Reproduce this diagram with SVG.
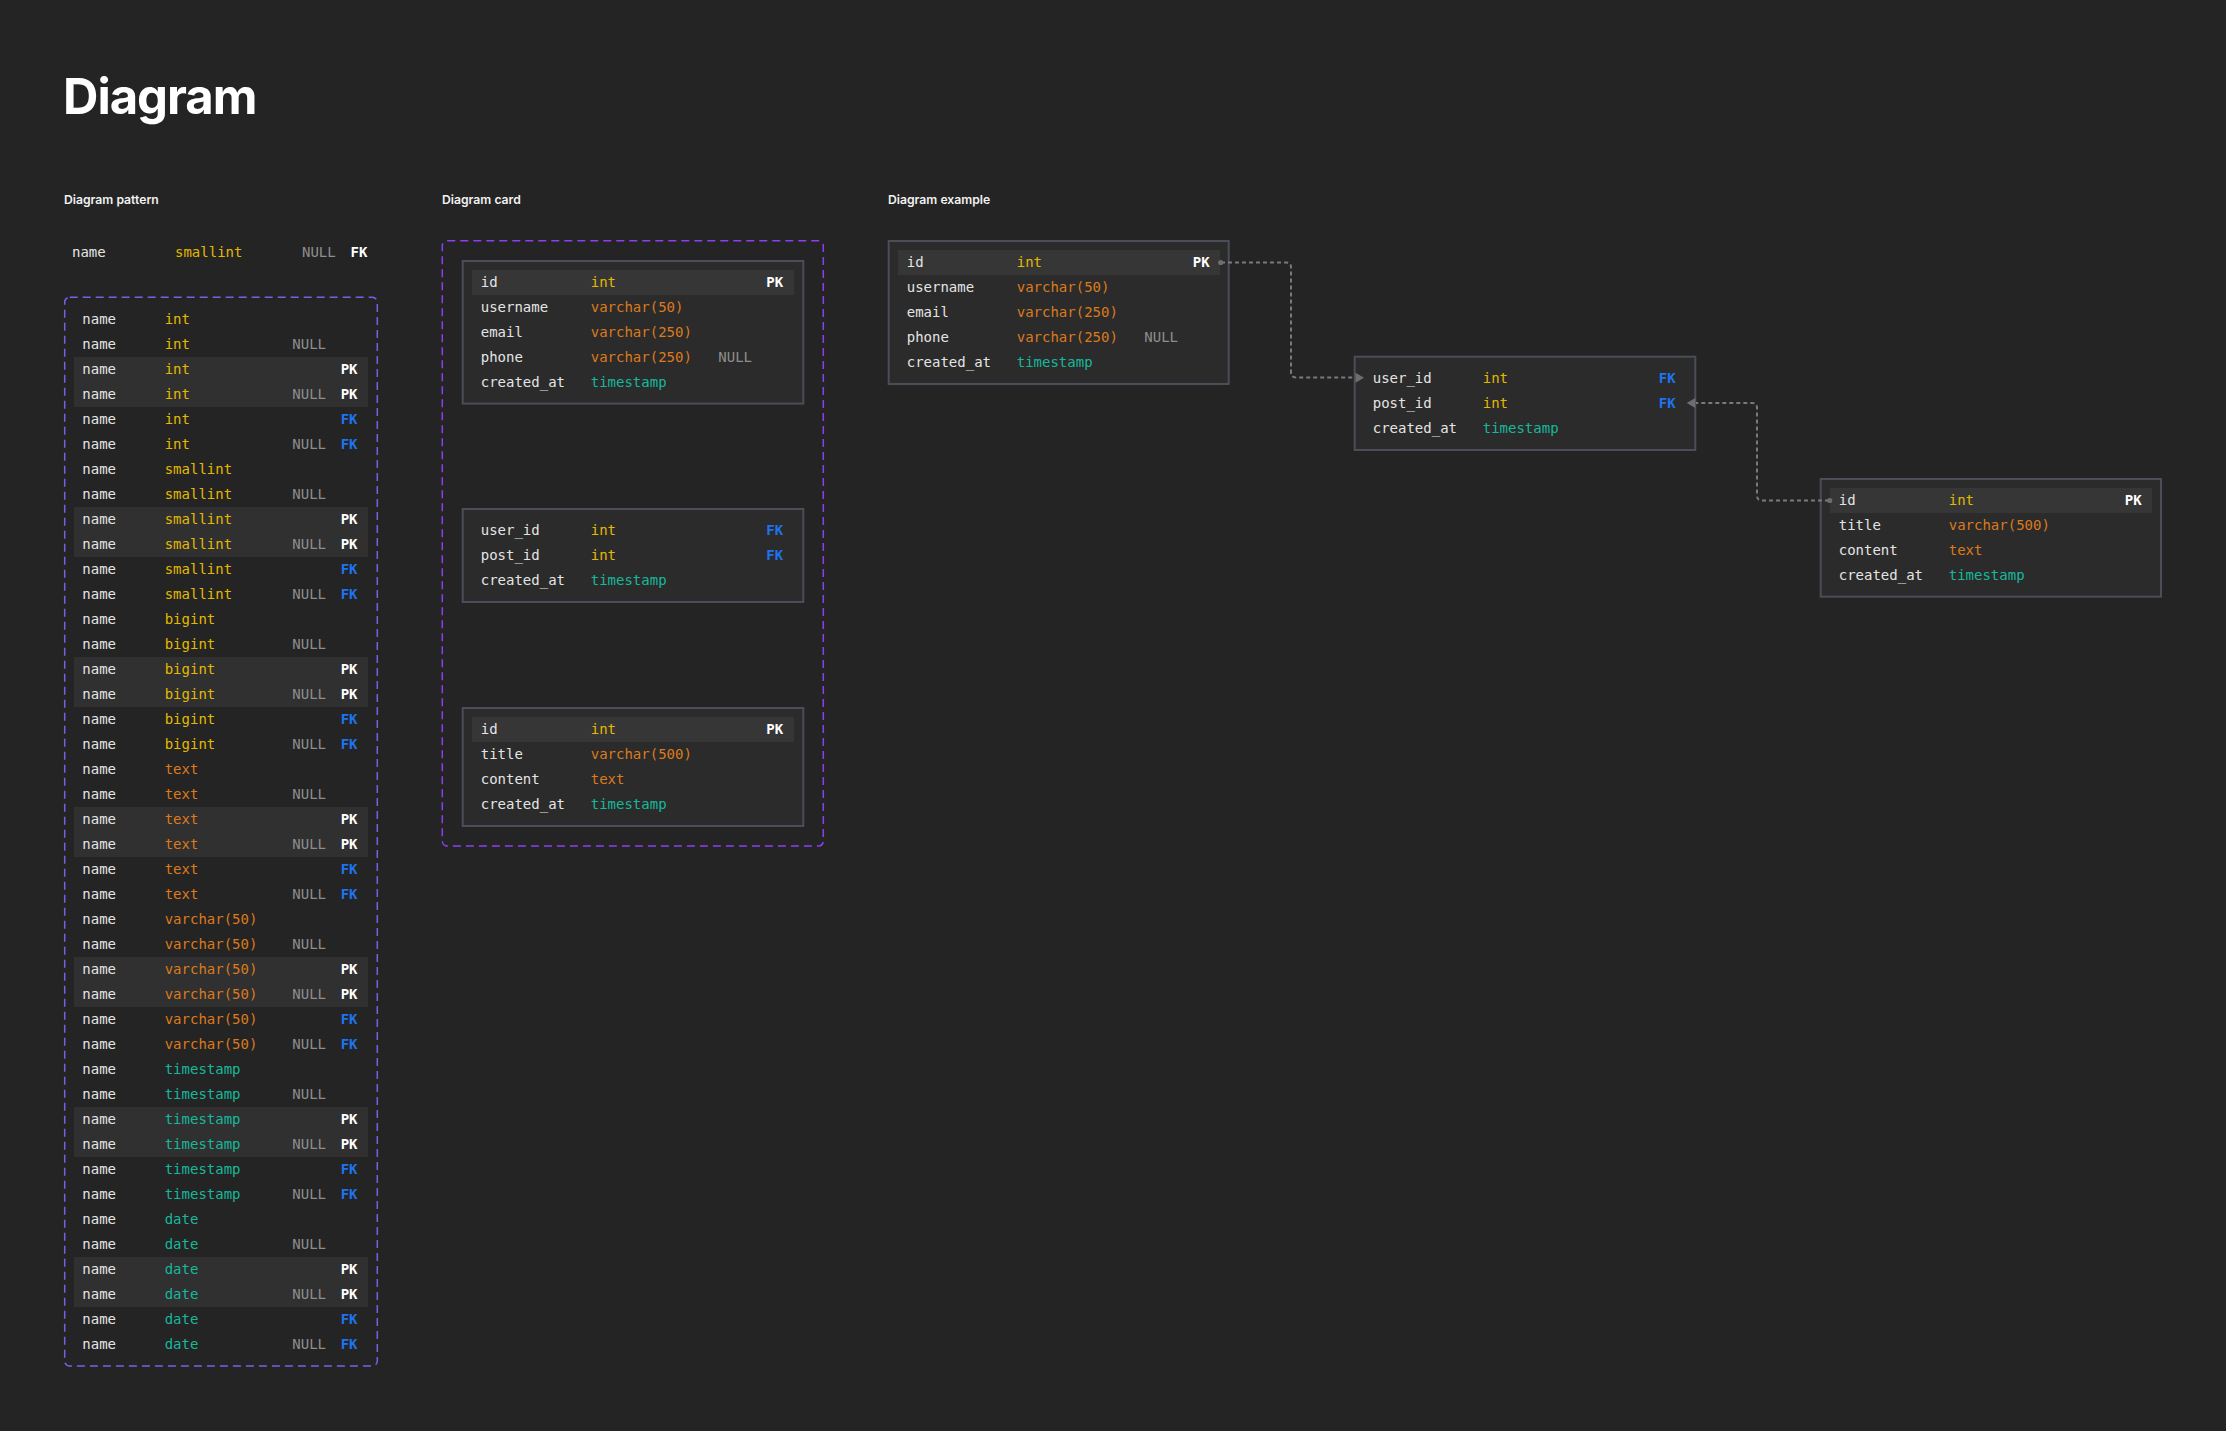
<svg xmlns="http://www.w3.org/2000/svg" width="2226" height="1431" viewBox="0 0 2226 1431">
<style>
text{font-family:"DejaVu Sans Mono","Liberation Mono",monospace;font-size:14px}
.h{font-family:Inter,"Liberation Sans",sans-serif;font-weight:700;fill:#ffffff;font-size:49px;letter-spacing:-1px}
.sub{font-family:Inter,"Liberation Sans",sans-serif;font-weight:600;font-size:12.2px;fill:#f2f2f2}
.n{fill:#e4e4e4}
.ty{fill:#e3b900}
.to{fill:#dc7a1c}
.tt{fill:#16b89c}
.nl{fill:#8e8e8e}
.pk{fill:#ffffff;font-weight:700}
.fk{fill:#1e74f0;font-weight:700}
.card{fill:#2b2b2b;stroke:#4b4e58;stroke-width:2}
.hl{fill:#363636}
.band{fill:#303030}
.conn{fill:none;stroke:#7a7a7a;stroke-width:2;stroke-dasharray:4 3}
.mk{fill:#6e6e6e}
</style>
<rect width="2226" height="1431" fill="#242424"/>

<text class="h" x="63" y="114">Diagram</text>
<text class="sub" x="64" y="204">Diagram pattern</text>
<text class="sub" x="442" y="204">Diagram card</text>
<text class="sub" x="888" y="204">Diagram example</text>

<g id="legend">
<text class="n" x="72" y="257">name</text>
<text class="ty" x="175" y="257">smallint</text>
<text class="nl" x="302" y="257">NULL</text>
<text class="pk" x="350.5" y="257">FK</text>
</g>

<g id="pattern">
<rect x="64.7" y="297.3" width="312.6" height="1068.7" rx="5" fill="none" stroke="#7163e6" stroke-width="1.5" stroke-dasharray="8 5"/>
<rect class="band" x="74" y="357" width="294" height="50"/>
<rect class="band" x="74" y="507" width="294" height="50"/>
<rect class="band" x="74" y="657" width="294" height="50"/>
<rect class="band" x="74" y="807" width="294" height="50"/>
<rect class="band" x="74" y="957" width="294" height="50"/>
<rect class="band" x="74" y="1107" width="294" height="50"/>
<rect class="band" x="74" y="1257" width="294" height="50"/>

<g transform="translate(0,324)"><text class="n" x="82.3">name</text><text class="ty" x="164.7">int</text></g>
<g transform="translate(0,349)"><text class="n" x="82.3">name</text><text class="ty" x="164.7">int</text><text class="nl" x="292.3">NULL</text></g>
<g transform="translate(0,374)"><text class="n" x="82.3">name</text><text class="ty" x="164.7">int</text><text class="pk" x="340.7">PK</text></g>
<g transform="translate(0,399)"><text class="n" x="82.3">name</text><text class="ty" x="164.7">int</text><text class="nl" x="292.3">NULL</text><text class="pk" x="340.7">PK</text></g>
<g transform="translate(0,424)"><text class="n" x="82.3">name</text><text class="ty" x="164.7">int</text><text class="fk" x="340.7">FK</text></g>
<g transform="translate(0,449)"><text class="n" x="82.3">name</text><text class="ty" x="164.7">int</text><text class="nl" x="292.3">NULL</text><text class="fk" x="340.7">FK</text></g>

<g transform="translate(0,474)"><text class="n" x="82.3">name</text><text class="ty" x="164.7">smallint</text></g>
<g transform="translate(0,499)"><text class="n" x="82.3">name</text><text class="ty" x="164.7">smallint</text><text class="nl" x="292.3">NULL</text></g>
<g transform="translate(0,524)"><text class="n" x="82.3">name</text><text class="ty" x="164.7">smallint</text><text class="pk" x="340.7">PK</text></g>
<g transform="translate(0,549)"><text class="n" x="82.3">name</text><text class="ty" x="164.7">smallint</text><text class="nl" x="292.3">NULL</text><text class="pk" x="340.7">PK</text></g>
<g transform="translate(0,574)"><text class="n" x="82.3">name</text><text class="ty" x="164.7">smallint</text><text class="fk" x="340.7">FK</text></g>
<g transform="translate(0,599)"><text class="n" x="82.3">name</text><text class="ty" x="164.7">smallint</text><text class="nl" x="292.3">NULL</text><text class="fk" x="340.7">FK</text></g>

<g transform="translate(0,624)"><text class="n" x="82.3">name</text><text class="ty" x="164.7">bigint</text></g>
<g transform="translate(0,649)"><text class="n" x="82.3">name</text><text class="ty" x="164.7">bigint</text><text class="nl" x="292.3">NULL</text></g>
<g transform="translate(0,674)"><text class="n" x="82.3">name</text><text class="ty" x="164.7">bigint</text><text class="pk" x="340.7">PK</text></g>
<g transform="translate(0,699)"><text class="n" x="82.3">name</text><text class="ty" x="164.7">bigint</text><text class="nl" x="292.3">NULL</text><text class="pk" x="340.7">PK</text></g>
<g transform="translate(0,724)"><text class="n" x="82.3">name</text><text class="ty" x="164.7">bigint</text><text class="fk" x="340.7">FK</text></g>
<g transform="translate(0,749)"><text class="n" x="82.3">name</text><text class="ty" x="164.7">bigint</text><text class="nl" x="292.3">NULL</text><text class="fk" x="340.7">FK</text></g>

<g transform="translate(0,774)"><text class="n" x="82.3">name</text><text class="to" x="164.7">text</text></g>
<g transform="translate(0,799)"><text class="n" x="82.3">name</text><text class="to" x="164.7">text</text><text class="nl" x="292.3">NULL</text></g>
<g transform="translate(0,824)"><text class="n" x="82.3">name</text><text class="to" x="164.7">text</text><text class="pk" x="340.7">PK</text></g>
<g transform="translate(0,849)"><text class="n" x="82.3">name</text><text class="to" x="164.7">text</text><text class="nl" x="292.3">NULL</text><text class="pk" x="340.7">PK</text></g>
<g transform="translate(0,874)"><text class="n" x="82.3">name</text><text class="to" x="164.7">text</text><text class="fk" x="340.7">FK</text></g>
<g transform="translate(0,899)"><text class="n" x="82.3">name</text><text class="to" x="164.7">text</text><text class="nl" x="292.3">NULL</text><text class="fk" x="340.7">FK</text></g>

<g transform="translate(0,924)"><text class="n" x="82.3">name</text><text class="to" x="164.7">varchar(50)</text></g>
<g transform="translate(0,949)"><text class="n" x="82.3">name</text><text class="to" x="164.7">varchar(50)</text><text class="nl" x="292.3">NULL</text></g>
<g transform="translate(0,974)"><text class="n" x="82.3">name</text><text class="to" x="164.7">varchar(50)</text><text class="pk" x="340.7">PK</text></g>
<g transform="translate(0,999)"><text class="n" x="82.3">name</text><text class="to" x="164.7">varchar(50)</text><text class="nl" x="292.3">NULL</text><text class="pk" x="340.7">PK</text></g>
<g transform="translate(0,1024)"><text class="n" x="82.3">name</text><text class="to" x="164.7">varchar(50)</text><text class="fk" x="340.7">FK</text></g>
<g transform="translate(0,1049)"><text class="n" x="82.3">name</text><text class="to" x="164.7">varchar(50)</text><text class="nl" x="292.3">NULL</text><text class="fk" x="340.7">FK</text></g>

<g transform="translate(0,1074)"><text class="n" x="82.3">name</text><text class="tt" x="164.7">timestamp</text></g>
<g transform="translate(0,1099)"><text class="n" x="82.3">name</text><text class="tt" x="164.7">timestamp</text><text class="nl" x="292.3">NULL</text></g>
<g transform="translate(0,1124)"><text class="n" x="82.3">name</text><text class="tt" x="164.7">timestamp</text><text class="pk" x="340.7">PK</text></g>
<g transform="translate(0,1149)"><text class="n" x="82.3">name</text><text class="tt" x="164.7">timestamp</text><text class="nl" x="292.3">NULL</text><text class="pk" x="340.7">PK</text></g>
<g transform="translate(0,1174)"><text class="n" x="82.3">name</text><text class="tt" x="164.7">timestamp</text><text class="fk" x="340.7">FK</text></g>
<g transform="translate(0,1199)"><text class="n" x="82.3">name</text><text class="tt" x="164.7">timestamp</text><text class="nl" x="292.3">NULL</text><text class="fk" x="340.7">FK</text></g>

<g transform="translate(0,1224)"><text class="n" x="82.3">name</text><text class="tt" x="164.7">date</text></g>
<g transform="translate(0,1249)"><text class="n" x="82.3">name</text><text class="tt" x="164.7">date</text><text class="nl" x="292.3">NULL</text></g>
<g transform="translate(0,1274)"><text class="n" x="82.3">name</text><text class="tt" x="164.7">date</text><text class="pk" x="340.7">PK</text></g>
<g transform="translate(0,1299)"><text class="n" x="82.3">name</text><text class="tt" x="164.7">date</text><text class="nl" x="292.3">NULL</text><text class="pk" x="340.7">PK</text></g>
<g transform="translate(0,1324)"><text class="n" x="82.3">name</text><text class="tt" x="164.7">date</text><text class="fk" x="340.7">FK</text></g>
<g transform="translate(0,1349)"><text class="n" x="82.3">name</text><text class="tt" x="164.7">date</text><text class="nl" x="292.3">NULL</text><text class="fk" x="340.7">FK</text></g>
</g>

<g id="card-section">
<rect x="442.3" y="240.7" width="381" height="605.3" rx="5" fill="none" stroke="#8a40f2" stroke-width="1.5" stroke-dasharray="8 5"/>
</g>

<g id="card-users" transform="translate(462.7,261)">
<rect class="card" x="0" y="0" width="340.6" height="142.6"/>
<rect class="hl" x="9.3" y="9" width="322" height="25"/>
<text class="n" x="18" y="26">id</text><text class="ty" x="128" y="26">int</text><text class="pk" x="303.5" y="26">PK</text>
<text class="n" x="18" y="51">username</text><text class="to" x="128" y="51">varchar(50)</text>
<text class="n" x="18" y="76">email</text><text class="to" x="128" y="76">varchar(250)</text>
<text class="n" x="18" y="101">phone</text><text class="to" x="128" y="101">varchar(250)</text><text class="nl" x="255.6" y="101">NULL</text>
<text class="n" x="18" y="126">created_at</text><text class="tt" x="128" y="126">timestamp</text>
</g>

<g id="card-likes" transform="translate(462.7,509)">
<rect class="card" x="0" y="0" width="340.6" height="93"/>
<text class="n" x="18" y="26">user_id</text><text class="ty" x="128" y="26">int</text><text class="fk" x="303.5" y="26">FK</text>
<text class="n" x="18" y="51">post_id</text><text class="ty" x="128" y="51">int</text><text class="fk" x="303.5" y="51">FK</text>
<text class="n" x="18" y="76">created_at</text><text class="tt" x="128" y="76">timestamp</text>
</g>

<g id="card-posts" transform="translate(462.7,708)">
<rect class="card" x="0" y="0" width="340.6" height="118"/>
<rect class="hl" x="9.3" y="9" width="322" height="25"/>
<text class="n" x="18" y="26">id</text><text class="ty" x="128" y="26">int</text><text class="pk" x="303.5" y="26">PK</text>
<text class="n" x="18" y="51">title</text><text class="to" x="128" y="51">varchar(500)</text>
<text class="n" x="18" y="76">content</text><text class="to" x="128" y="76">text</text>
<text class="n" x="18" y="101">created_at</text><text class="tt" x="128" y="101">timestamp</text>
</g>

<g id="ex-users" transform="translate(888.7,241)">
<rect class="card" x="0" y="0" width="340" height="143"/>
<rect class="hl" x="9.3" y="9" width="322" height="25"/>
<text class="n" x="18" y="26">id</text><text class="ty" x="128" y="26">int</text><text class="pk" x="304" y="26">PK</text>
<text class="n" x="18" y="51">username</text><text class="to" x="128" y="51">varchar(50)</text>
<text class="n" x="18" y="76">email</text><text class="to" x="128" y="76">varchar(250)</text>
<text class="n" x="18" y="101">phone</text><text class="to" x="128" y="101">varchar(250)</text><text class="nl" x="255.6" y="101">NULL</text>
<text class="n" x="18" y="126">created_at</text><text class="tt" x="128" y="126">timestamp</text>
</g>

<g id="ex-likes" transform="translate(1354.7,356.7)">
<rect class="card" x="0" y="0" width="340.6" height="93.3"/>
<text class="n" x="18" y="26">user_id</text><text class="ty" x="128" y="26">int</text><text class="fk" x="304" y="26">FK</text>
<text class="n" x="18" y="51">post_id</text><text class="ty" x="128" y="51">int</text><text class="fk" x="304" y="51">FK</text>
<text class="n" x="18" y="76">created_at</text><text class="tt" x="128" y="76">timestamp</text>
</g>

<g id="ex-posts" transform="translate(1820.7,479)">
<rect class="card" x="0" y="0" width="340.3" height="117.7"/>
<rect class="hl" x="9.3" y="9" width="322" height="25"/>
<text class="n" x="18" y="26">id</text><text class="ty" x="128" y="26">int</text><text class="pk" x="304" y="26">PK</text>
<text class="n" x="18" y="51">title</text><text class="to" x="128" y="51">varchar(500)</text>
<text class="n" x="18" y="76">content</text><text class="to" x="128" y="76">text</text>
<text class="n" x="18" y="101">created_at</text><text class="tt" x="128" y="101">timestamp</text>
</g>

<g id="connectors">
<path class="conn" d="M1221,262.5 H1286 Q1291,262.5 1291,267.5 V372.5 Q1291,377.5 1296,377.5 H1354"/>
<circle class="mk" cx="1220.7" cy="262.5" r="2.6"/>
<path class="mk" d="M1355.5,372.7 L1364,377.7 L1355.5,382.7 Z"/>
<path class="conn" d="M1829,500.5 H1762 Q1757,500.5 1757,495.5 V408 Q1757,403 1752,403 H1696"/>
<circle class="mk" cx="1829.7" cy="500.5" r="2.6"/>
<path class="mk" d="M1695.3,398 L1686.7,403 L1695.3,408 Z"/>
</g>
</svg>
